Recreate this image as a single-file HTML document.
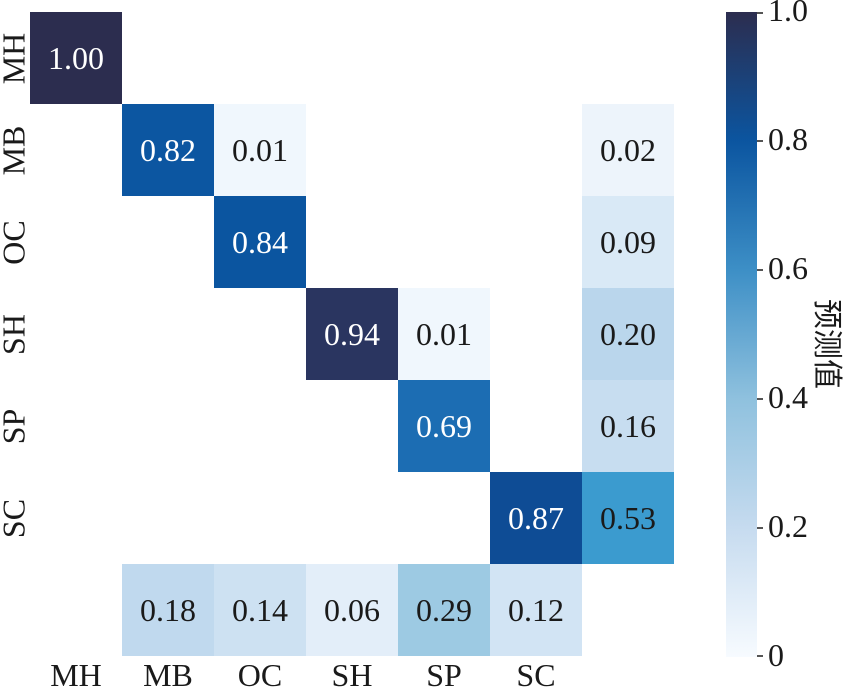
<!DOCTYPE html><html><head><style>
body{margin:0;background:#fff;width:863px;height:692px;overflow:hidden;font-family:"Liberation Serif",serif}
.c{position:absolute;width:92px;height:92px;display:flex;align-items:center;justify-content:center;font-size:32px}
.w{color:#fff}.k{color:#1a1a1a}
.t{position:absolute;font-size:32px;color:#1a1a1a}
.yl{position:absolute;font-size:32px;transform:rotate(-90deg);transform-origin:center;width:92px;text-align:center;left:-32px;color:#1a1a1a}
</style></head><body>
<div class="c w" style="left:30px;top:12px;background:#2c2d4f">1.00</div>
<div class="c w" style="left:122px;top:104px;background:#0c56a1">0.82</div>
<div class="c k" style="left:214px;top:104px;background:#f0f7fd">0.01</div>
<div class="c k" style="left:582px;top:104px;background:#edf4fb">0.02</div>
<div class="c w" style="left:214px;top:196px;background:#0b55a0">0.84</div>
<div class="c k" style="left:582px;top:196px;background:#d9e9f6">0.09</div>
<div class="c w" style="left:306px;top:288px;background:#2a3560">0.94</div>
<div class="c k" style="left:398px;top:288px;background:#f0f7fd">0.01</div>
<div class="c k" style="left:582px;top:288px;background:#bad6ec">0.20</div>
<div class="c w" style="left:398px;top:380px;background:#1c6db3">0.69</div>
<div class="c k" style="left:582px;top:380px;background:#c7ddf0">0.16</div>
<div class="c w" style="left:490px;top:472px;background:#0e4c95">0.87</div>
<div class="c k" style="left:582px;top:472px;background:#3b9bcf">0.53</div>
<div class="c k" style="left:122px;top:564px;background:#c0d9ee">0.18</div>
<div class="c k" style="left:214px;top:564px;background:#cde1f2">0.14</div>
<div class="c k" style="left:306px;top:564px;background:#e3eef9">0.06</div>
<div class="c k" style="left:398px;top:564px;background:#9dcae3">0.29</div>
<div class="c k" style="left:490px;top:564px;background:#d2e4f4">0.12</div>
<div class="yl" style="top:40px">MH</div>
<div class="yl" style="top:132px">MB</div>
<div class="yl" style="top:224px">OC</div>
<div class="yl" style="top:316px">SH</div>
<div class="yl" style="top:408px">SP</div>
<div class="yl" style="top:500px">SC</div>
<div class="t" style="left:30px;width:92px;text-align:center;top:657px">MH</div>
<div class="t" style="left:122px;width:92px;text-align:center;top:657px">MB</div>
<div class="t" style="left:214px;width:92px;text-align:center;top:657px">OC</div>
<div class="t" style="left:306px;width:92px;text-align:center;top:657px">SH</div>
<div class="t" style="left:398px;width:92px;text-align:center;top:657px">SP</div>
<div class="t" style="left:490px;width:92px;text-align:center;top:657px">SC</div>
<div style="position:absolute;left:726px;top:12px;width:31px;height:645px;background:linear-gradient(to top,#f7fbff 0%,#c6dbef 20%,#8fc1de 40%,#3d8fc6 60%,#0b55a0 80%,#2c2d4f 100%)"></div>
<div class="t" style="left:768px;top:-8px">1.0</div>
<div class="t" style="left:768px;top:121px">0.8</div>
<div class="t" style="left:768px;top:250px">0.6</div>
<div class="t" style="left:768px;top:379px">0.4</div>
<div class="t" style="left:768px;top:508px">0.2</div>
<div class="t" style="left:768px;top:637px">0</div>
<div style="position:absolute;left:757px;top:12px;width:6px;height:645px">
<div style="position:absolute;top:0;width:6px;height:2px;background:#555"></div>
<div style="position:absolute;top:128px;width:6px;height:2px;background:#555"></div>
<div style="position:absolute;top:257px;width:6px;height:2px;background:#555"></div>
<div style="position:absolute;top:386px;width:6px;height:2px;background:#555"></div>
<div style="position:absolute;top:515px;width:6px;height:2px;background:#555"></div>
<div style="position:absolute;top:643px;width:6px;height:2px;background:#555"></div>
</div>
<div class="t" style="left:820px;top:335px;transform:rotate(90deg);transform-origin:left top;font-family:'Noto Sans CJK SC',sans-serif;font-size:30px;white-space:nowrap;margin-left:32px;margin-top:-36px">预测值</div>
</body></html>
